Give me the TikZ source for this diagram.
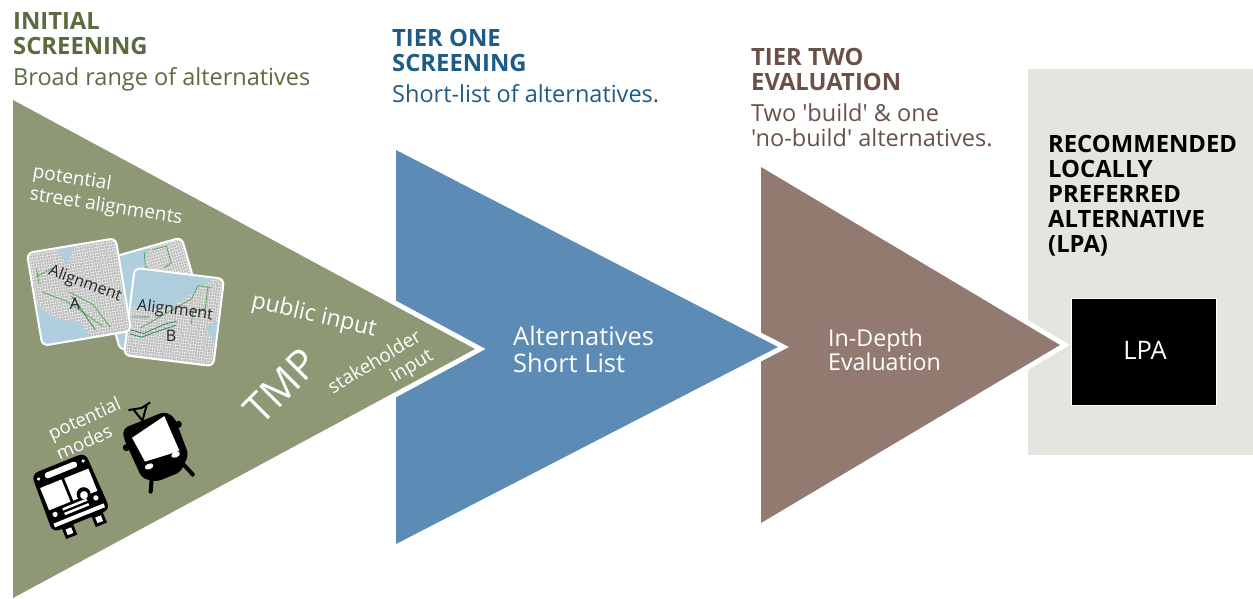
\documentclass[tikz,border=0pt]{standalone}
\usepackage{fontspec}
\setmainfont{Open Sans}
\newfontfamily\qfont{Open Sans}
\definecolor{grn}{HTML}{8E9875}
\definecolor{blu}{HTML}{5C8BB6}
\definecolor{brn}{HTML}{927A70}
\definecolor{pale}{HTML}{E4E5DE}
\definecolor{grnT}{HTML}{5B6B40}
\definecolor{bluT}{HTML}{1E5C88}
\definecolor{brnT}{HTML}{6A5148}
\definecolor{water}{HTML}{AFCFDF}
\definecolor{street}{HTML}{BDBDBD}
\definecolor{route}{HTML}{4FA84F}
\definecolor{routeD}{HTML}{1F7F4A}
\tikzset{
  head/.style={anchor=base west,inner sep=0pt,align=left,font=\fontsize{23.8}{25}\selectfont\bfseries},
  sub/.style={anchor=base west,inner sep=0pt,align=left,font=\fontsize{23.5}{25}\selectfont},
  inner/.style={anchor=base west,inner sep=0pt,align=left,text=white,font=\fontsize{25.5}{27}\selectfont},
  wl/.style={anchor=center,inner sep=0pt,align=left,text=white},
  maplbl/.style={anchor=center,inner sep=0pt,text=black!85,font=\fontsize{16}{18}\selectfont},
  mapframe/.style={draw=white,line width=2pt,rounded corners=6pt},
  halo/.style={draw=white,line width=10pt,miter limit=12},
}
\newcommand{\maptile}[6]{%
  \begin{scope}[shift={#1},rotate=#2]
    \begin{scope}
      \clip[rounded corners=6pt] (-#3,-#4) rectangle (#3,#4);
      \fill[street] (-#3,-#4) rectangle (#3,#4);
      \foreach \u in {-50,-47.5,...,50} {\draw[white,line width=.3pt] (\u,-52) -- (\u,52);}
      \foreach \v in {-50,-47,...,50} {\draw[white,line width=.3pt] (-52,\v) -- (52,\v);}
      \fill[water] #5;
      #6
    \end{scope}
    \draw[mapframe] (-#3,-#4) rectangle (#3,#4);
  \end{scope}}
\begin{document}
\begin{tikzpicture}[x=1pt,y=-1pt]
\useasboundingbox (0,0) rectangle (1253,598);
\fill[white] (0,0) rectangle (1253,598);
\fill[pale] (1028,69) rectangle (1253,455);
% arrows
\draw[halo] (761,167) -- (1060,345) -- (761,523) -- cycle;
\fill[brn] (761,167) -- (1060,345) -- (761,523) -- cycle;
\draw[halo] (396,150) -- (778,347) -- (396,544) -- cycle;
\fill[blu] (396,150) -- (778,347) -- (396,544) -- cycle;
\draw[halo] (13,100) -- (475,349) -- (13,598) -- cycle;
\fill[grn] (13,100) -- (475,349) -- (13,598) -- cycle;
% headings
\node[head,text=grnT] (h1a) at (13,29.5) {INITIAL};
\node[head,text=grnT] (h1b) at (13,54.5) {SCREENING};
\node[sub,text=grnT] (h1c) at (13,85) {Broad range of alternatives};
\node[head,text=bluT] (h2a) at (392,46.5) {TIER ONE};
\node[head,text=bluT] (h2b) at (392,71.5) {SCREENING};
\node[sub,text=bluT] (h2c) at (392,102) {Short-list of alternatives.};
\node[head,text=brnT] (h3a) at (751,65.5) {TIER TWO};
\node[head,text=brnT] (h3b) at (751,90.5) {EVALUATION};
\node[sub,text=brnT] (h3c) at (751,121) {\qfont Two 'build' \& one};
\node[sub,text=brnT] (h3d) at (751,146) {\qfont 'no-build' alternatives.};
\node[head,text=black] (h4a) at (1048,152.5) {RECOMMENDED};
\node[head,text=black] (h4b) at (1048,177.5) {LOCALLY};
\node[head,text=black] (h4c) at (1048,202.5) {PREFERRED};
\node[head,text=black] (h4d) at (1048,227.5) {ALTERNATIVE};
\node[head,text=black] (h4e) at (1048,252.5) {(LPA)};
% arrow labels
\node[inner] (short1) at (513,345) {Alternatives};
\node[inner] (short2) at (513,372) {Short List};
\node[inner,font=\fontsize{23.2}{25}\selectfont] (eval1) at (828,346) {In-Depth};
\node[inner,font=\fontsize{23.2}{25}\selectfont] (eval2) at (828,370) {Evaluation};
% LPA
\node[draw=white,line width=1.5pt,fill=black,minimum width=145pt,minimum height=107pt,inner sep=0pt] (lpa) at (1144,352) {};
\node[text=white,inner sep=0pt,font=\fontsize{25.5}{27}\selectfont] (lpat) at (1145,350) {LPA};
% maps
\maptile{(151,294)}{16}{45}{46}{(-45,-46) -- (12,-46) -- (-12,-10) -- (-30,40) -- (-45,46) -- cycle}{
  \draw[route,line width=.7pt] (5,-42) -- (2,-28) -- (8,-22) (14,-42) -- (28,-42) -- (28,-24) -- (20,-22);}
\maptile{(174,317)}{-7}{45}{44}{(-45,-44) -- (35,-44) -- (-5,-8) -- (-30,-5) -- (-45,-5) -- cycle (45,-2) -- (32,6) -- (45,22) -- cycle}{
  \draw[route,line width=.7pt] (-32,15) -- (15,-20) -- (20,-34) -- (34,-34) (30,-34) -- (30,-10) -- (18,-10) -- (18,5);
  \draw[routeD,line width=.7pt] (-42,22) -- (-30,24) -- (-8,13) -- (3,8) (-42,18) -- (-28,20) -- (-8,8) -- (3,4) (-42,5) -- (-25,3);}
\maptile{(79,292)}{9.5}{45}{47}{(-45,5) -- (-28,22) -- (-5,30) -- (5,47) -- (-45,47) -- cycle (-15,-47) -- (-8,-30) -- (5,-47) -- cycle}{
  \draw[route,line width=.7pt] (-40,-22) -- (-22,-28) (-38,-30) -- (-38,-14) (-36,-6) -- (-14,7) -- (5,25) -- (18,38) (-10,-2) -- (12,15) -- (25,40);
  \draw[routeD,line width=.7pt] (-8,3) -- (-3,12) -- (5,30) -- (10,40);}
\node[maplbl,rotate=-20] (ma1) at (85,284) {Alignment};
\node[maplbl] (ma2) at (75,304) {A};
\node[maplbl,rotate=-7] (mb1) at (175,311) {Alignment};
\node[maplbl] (mb2) at (171,336) {B};
% annotations
\node[wl,font=\fontsize{19}{21}\selectfont,rotate=-9] (ps1) at (72,179) {potential};
\node[wl,font=\fontsize{19}{21}\selectfont,rotate=-9] (ps2) at (106,207) {street alignments};
\node[wl,font=\fontsize{23}{25}\selectfont,rotate=-13] (pub) at (314,316) {public input};
\node[wl,font=\fontsize{19}{21}\selectfont,rotate=31] (st1) at (374,361) {stakeholder};
\node[wl,font=\fontsize{19}{21}\selectfont,rotate=31] (st2) at (412,367) {input};
\node[wl,font=\fontsize{41}{43}\selectfont,rotate=45] (tmp) at (281,386) {TMP};
\node[wl,font=\fontsize{18.5}{21}\selectfont,rotate=24] (pm1) at (85,420) {potential};
\node[wl,font=\fontsize{18.5}{21}\selectfont,rotate=24] (pm2) at (84,442) {modes};
% bus
\begin{scope}[shift={(71,495)},rotate=22]
  \fill[black] (-9,24) rectangle (-21,39);
  \fill[black] (11,24) rectangle (23,39);
  \fill[white] (-12,30) rectangle (-18,36);
  \fill[white] (14,30) rectangle (20,36);
  \fill[black,rounded corners=7pt] (-29,-34) -- (29,-34) -- (31,28) -- (-31,28) -- cycle;
  \fill[white,rounded corners=2.5pt] (-17,-30) rectangle (17,-24);
  \fill[white] (-26,-18) rectangle (-3,6);
  \fill[white] (0,-18) rectangle (26,6);
  \fill[black] (12,4) circle (7pt);
  \fill[white] (12,5) circle (4pt);
  \fill[white] (-24,-27) circle (1.8pt);
  \fill[white] (24,-27) circle (1.8pt);
  \fill[white] (-22,12) circle (2.6pt);
  \fill[white] (22,12) circle (2.6pt);
  \fill[white] (-13,9) rectangle (13,11.5);
  \fill[white] (-13,14) rectangle (13,16.5);
  \fill[white] (-27,20) rectangle (27,24);
\end{scope}
% tram
\begin{scope}[shift={(157,446)},rotate=22]
  \draw[black,line width=2pt] (-4,-29) -- (-8,-42) (-4,-29) -- (6,-42) (-13,-44) -- (0,-41) -- (10,-43);
  \draw[black,line width=4pt,line cap=round] (-17,28) -- (-23,40);
  \draw[black,line width=4pt,line cap=round] (17,25) -- (22.5,40);
  \fill[black,rounded corners=5pt] (-25,-29) -- (20,-29) -- (27,-20) -- (26,20) -- (12,33) -- (-14,33) -- (-26,24) -- (-28,-20) -- cycle;
  \fill[black] (-29,-10) circle (3.5pt);
  \fill[black] (28,-12) circle (3.5pt);
  \fill[white] (-20,-17) -- (18,-25) -- (19,13) -- (-17,10) -- cycle;
  \fill[white] (-15,16) ellipse (4.5pt and 2.8pt);
  \fill[white] (14,15) ellipse (4.5pt and 2.8pt);
\end{scope}
\end{tikzpicture}
\end{document}
